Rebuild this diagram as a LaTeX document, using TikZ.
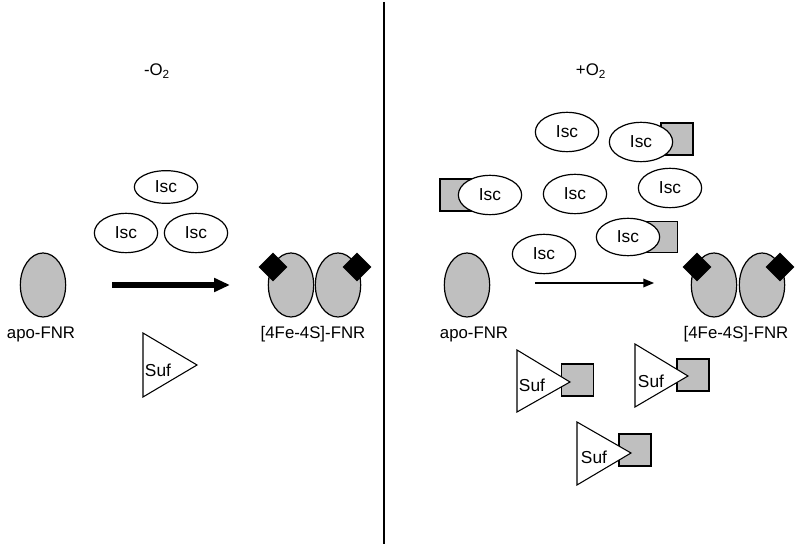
\documentclass[tikz,border=0pt]{standalone}
\usepackage{fontspec}
\setmainfont{Liberation Sans}
\usetikzlibrary{shapes.geometric,arrows.meta}
\tikzset{
  lbl/.style={inner sep=0pt,font=\fontsize{12.6}{14}\selectfont},
  suflbl/.style={inner sep=0pt,font=\fontsize{13}{15}\selectfont},
  isc/.style={draw,ellipse,fill=white,line width=0.9pt,inner sep=0pt,minimum width=47.5pt,minimum height=29.5pt,font=\fontsize{13}{15}\selectfont},
  fnr/.style={draw,ellipse,fill=black!25,line width=0.9pt,inner sep=0pt,minimum width=34pt,minimum height=48pt},
  cluster/.style={draw,diamond,fill=black,inner sep=0pt,minimum width=21pt,minimum height=21pt},
  sqr/.style={draw,rectangle,fill=black!25,line width=0.8pt,inner sep=0pt,minimum size=24pt},
  tri/.style={draw,fill=white,line width=0.8pt,line join=miter},
}
\begin{document}
\begin{tikzpicture}[x=0.75pt,y=-0.75pt]
\useasboundingbox (0,0) rectangle (800,552);
\fill[white] (0,0) rectangle (800,552);
% divider
\coordinate (dtop) at (384,2);
\coordinate (dbot) at (384,544);
\draw[line width=1.7pt] (dtop) -- (dbot);

% ===== left panel =====
\node[lbl] (minus) at (157,71) {-O\textsubscript{2}};
\node[isc,minimum height=24.5pt] (li1) at (166,187) {Isc};
\node[isc] (li2) at (126,233) {Isc};
\node[isc] (li3) at (196,233) {Isc};
\node[fnr] (lapo) at (43,285) {};
\node[lbl] (lapol) at (41,334) {apo-FNR};
\node[fnr] (lh1) at (291,285) {};
\node[fnr] (lh2) at (338,285) {};
\node[cluster] (ld1) at (273,267) {};
\node[cluster] (ld2) at (357,267) {};
\node[lbl] (lholl) at (313,334) {[4Fe-4S]-FNR};
\coordinate (la1) at (112,285);
\coordinate (la2) at (230,285);
\draw[line width=3.8pt,-{Triangle[length=12pt,width=10pt]}] (la1) -- (la2);
\draw[tri] (143,333) -- (197,365) -- (143,397) -- cycle;
\node[suflbl] (lsuf) at (158,370) {Suf};

% ===== right panel =====
\node[lbl] (plus) at (591,71) {+O\textsubscript{2}};
\node[isc] (ri1) at (567,132) {Isc};
\node[sqr] (rq2) at (677,139) {};
\node[isc] (ri2) at (641,142) {Isc};
\node[sqr] (rq3) at (456,195) {};
\node[isc] (ri3) at (490,195) {Isc};
\node[isc] (ri4) at (575,194) {Isc};
\node[isc] (ri5) at (670,188) {Isc};
\node[sqr,minimum size=23pt] (rq6) at (662,237) {};
\node[isc,minimum height=28pt] (ri6) at (628,237) {Isc};
\node[isc] (ri7) at (544,254) {Isc};
\node[fnr] (rapo) at (467,285) {};
\node[lbl] (rapol) at (474,334) {apo-FNR};
\node[fnr] (rh1) at (714,285) {};
\node[fnr] (rh2) at (762,285) {};
\node[cluster] (rd1) at (697,267) {};
\node[cluster] (rd2) at (780,267) {};
\node[lbl] (rholl) at (736,334) {[4Fe-4S]-FNR};
\coordinate (ra1) at (535,283);
\coordinate (ra2) at (654,283);
\draw[line width=1pt,-{Triangle[length=8pt,width=6.5pt]}] (ra1) -- (ra2);

\node[sqr] (sq1) at (577.5,380) {};
\draw[tri] (517,350) -- (570,382) -- (517,412) -- cycle;
\node[suflbl] (suf1) at (532,385) {Suf};

\node[sqr] (sq2) at (693,375) {};
\draw[tri] (635,344) -- (688,376) -- (635,407) -- cycle;
\node[suflbl] (suf2) at (651,381) {Suf};

\node[sqr] (sq3) at (635,450) {};
\draw[tri] (577,422) -- (631,453) -- (577,485) -- cycle;
\node[suflbl] (suf3) at (594,457) {Suf};
\end{tikzpicture}
\end{document}
